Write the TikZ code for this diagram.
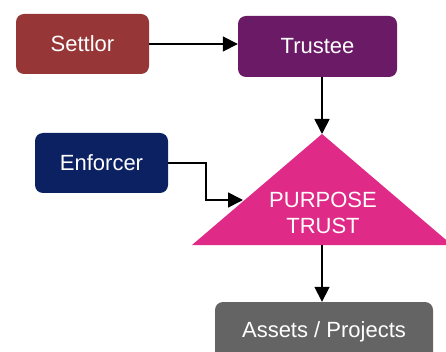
\documentclass[tikz,border=0pt]{standalone}
\usepackage{fontspec}
\setmainfont{Liberation Sans}
\usetikzlibrary{arrows.meta}
\definecolor{settlorred}{HTML}{963636}
\definecolor{trusteeplum}{HTML}{6B1A66}
\definecolor{enforcernavy}{HTML}{0B2161}
\definecolor{trustpink}{HTML}{DF2A87}
\definecolor{assetgrey}{HTML}{646464}
\begin{document}
\begin{tikzpicture}[x=1pt,y=-1pt,
  party/.style={rounded corners=8pt, text=white, inner sep=0pt,
    font=\fontsize{22}{26}\selectfont},
  link/.style={draw=black, line width=1.7pt,
    -{Triangle[length=15pt,width=15pt]}}]
\clip (0,0) rectangle (446,352);
% role boxes
\node[party, fill=settlorred, minimum width=133pt, minimum height=60pt] (settlor) at (82.5,44) {Settlor};
\node[party, fill=trusteeplum, minimum width=159pt, minimum height=61pt] (trustee) at (317.5,46.5) {Trustee};
\node[party, fill=enforcernavy, minimum width=133pt, minimum height=60pt] (enforcer) at (101.5,163) {Enforcer};
\node[party, fill=assetgrey, minimum width=218pt, minimum height=60pt] (assets) at (324,332) {Assets / Projects};
% the purpose trust triangle
\coordinate (apex) at (322,134);
\coordinate (baseL) at (192,245);
\coordinate (baseR) at (452,245);
\coordinate (baseC) at (322,245);
\coordinate (side) at (243,200);
\fill[trustpink] (apex) -- (baseR) -- (baseL) -- cycle;
\node[text=white, align=center, font=\fontsize{22}{26}\selectfont] (trust) at (323,213) {PURPOSE\\TRUST};
% connectors
\draw[link] (settlor.east) -- (trustee.west |- settlor.east);
\draw[link] (trustee.south -| apex) -- (apex);
\draw[link] (enforcer.east) -- ++(38,0) |- (side);
\draw[link] (baseC) -- (assets.north -| baseC);
\end{tikzpicture}
\end{document}
